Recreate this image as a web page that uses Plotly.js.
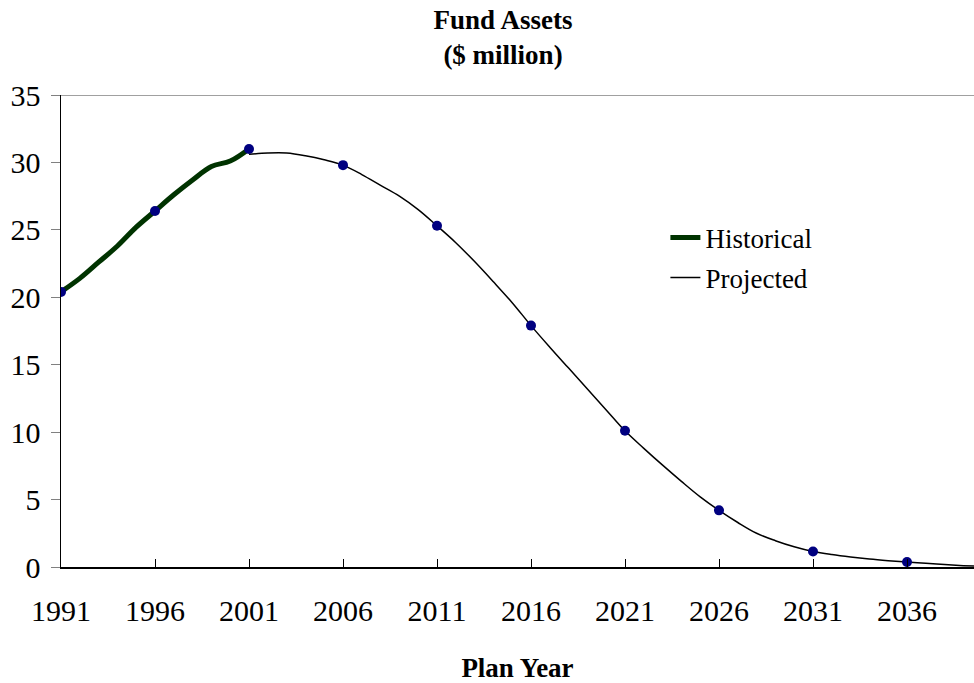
<!DOCTYPE html>
<html>
<head>
<meta charset="utf-8">
<script src="https://cdn.plot.ly/plotly-3.0.1.min.js"></script>
<style>
  html, body { margin: 0; padding: 0; background: #ffffff; }
  #chart { width: 974px; height: 683px; }
</style>
</head>
<body>
<div id="chart"></div>
<script>
// Fund assets in $ million, by plan year
const historicalYears = [1991, 1992, 1993, 1994, 1995, 1996, 1997, 1998, 1999, 2000, 2001];
const historicalValues = [20.4, 21.4, 22.6, 23.8, 25.2, 26.4, 27.6, 28.7, 29.7, 30.1, 31.0];

const projectedYears = [
  2001, 2002, 2003, 2004, 2005, 2006, 2007, 2008, 2009, 2010,
  2011, 2012, 2013, 2014, 2015, 2016, 2017, 2018, 2019, 2020,
  2021, 2022, 2023, 2024, 2025, 2026, 2027, 2028, 2029, 2030,
  2031, 2032, 2033, 2034, 2035, 2036, 2037, 2038, 2039, 2040
];
const projectedValues = [
  30.6, 30.7, 30.7, 30.5, 30.2, 29.8, 29.1, 28.3, 27.5, 26.5,
  25.3, 24.05, 22.65, 21.15, 19.6, 17.9, 16.3, 14.75, 13.2, 11.65,
  10.1, 8.8, 7.55, 6.35, 5.2, 4.2, 3.3, 2.5, 1.95, 1.5,
  1.15, 0.92, 0.74, 0.59, 0.47, 0.37, 0.27, 0.18, 0.1, 0.04
];

const tickYears = [1991, 1996, 2001, 2006, 2011, 2016, 2021, 2026, 2031, 2036];

// Dots every five plan years: historical through 2001, projected after
const markX = [], markY = [];
historicalYears.forEach((yr, i) => {
  if (tickYears.includes(yr)) { markX.push(yr); markY.push(historicalValues[i]); }
});
projectedYears.forEach((yr, i) => {
  if (tickYears.includes(yr) && !historicalYears.includes(yr)) { markX.push(yr); markY.push(projectedValues[i]); }
});

const serif = 'Liberation Serif, Times New Roman, serif';

const traces = [
  {
    x: historicalYears, y: historicalValues, name: 'Historical',
    type: 'scatter', mode: 'lines', legendgroup: 'h',
    line: { color: '#003300', width: 5, shape: 'spline', smoothing: 1 }
  },
  {
    x: projectedYears, y: projectedValues, name: 'Projected',
    type: 'scatter', mode: 'lines', legendgroup: 'p',
    line: { color: '#000000', width: 1.5, shape: 'spline', smoothing: 1 }
  },
  {
    x: markX, y: markY, name: 'points', showlegend: false,
    type: 'scatter', mode: 'markers', hoverinfo: 'x+y',
    marker: { color: '#000080', size: 10 }
  }
];

const layout = {
  width: 974, height: 683,
  paper_bgcolor: '#ffffff', plot_bgcolor: '#ffffff',
  margin: { l: 61, r: 0, t: 95, b: 116 },
  font: { family: serif, color: '#000000', size: 26 },
  title: {
    text: '<b>Fund Assets<br>($ million)</b>',
    font: { family: serif, size: 27, color: '#000000' },
    x: 503 / 974, xref: 'container', xanchor: 'center',
    y: 1 - 29 / 683, yref: 'container', yanchor: 'middle'
  },
  xaxis: {
    range: [1991, 1991 + 913 / 18.8],
    tickvals: tickYears, ticktext: tickYears.map(String),
    ticks: 'inside', ticklen: 8, tickcolor: '#000000', tickwidth: 1,
    showline: true, linecolor: '#000000', linewidth: 1.5,
    showgrid: false, zeroline: false,
    tickfont: { family: serif, size: 30, color: '#000000' },
    ticklabelstandoff: 16,
    title: { text: '<b>Plan Year</b>', font: { family: serif, size: 27, color: '#000000' }, standoff: 46 }
  },
  yaxis: {
    range: [0, 35], dtick: 5, tick0: 0,
    ticks: 'outside', ticklen: 9, tickcolor: '#808080', tickwidth: 1,
    showline: true, linecolor: '#000000', linewidth: 1.5,
    showgrid: false, zeroline: false,
    tickfont: { family: serif, size: 30, color: '#000000' },
    ticklabelstandoff: 4
  },
  shapes: [
    { type: 'line', xref: 'paper', yref: 'y', x0: 0, x1: 1, y0: 35, y1: 35,
      line: { color: '#808080', width: 1.5 } }
  ],
  showlegend: true,
  legend: {
    x: 0.662, y: 0.749, xanchor: 'left', yanchor: 'top',
    bgcolor: 'rgba(0,0,0,0)', borderwidth: 0,
    font: { family: serif, size: 27, color: '#000000' },
    traceorder: 'grouped', tracegroupgap: 2
  }
};

Plotly.newPlot('chart', traces, layout, { displayModeBar: false, staticPlot: true });
</script>
</body>
</html>
